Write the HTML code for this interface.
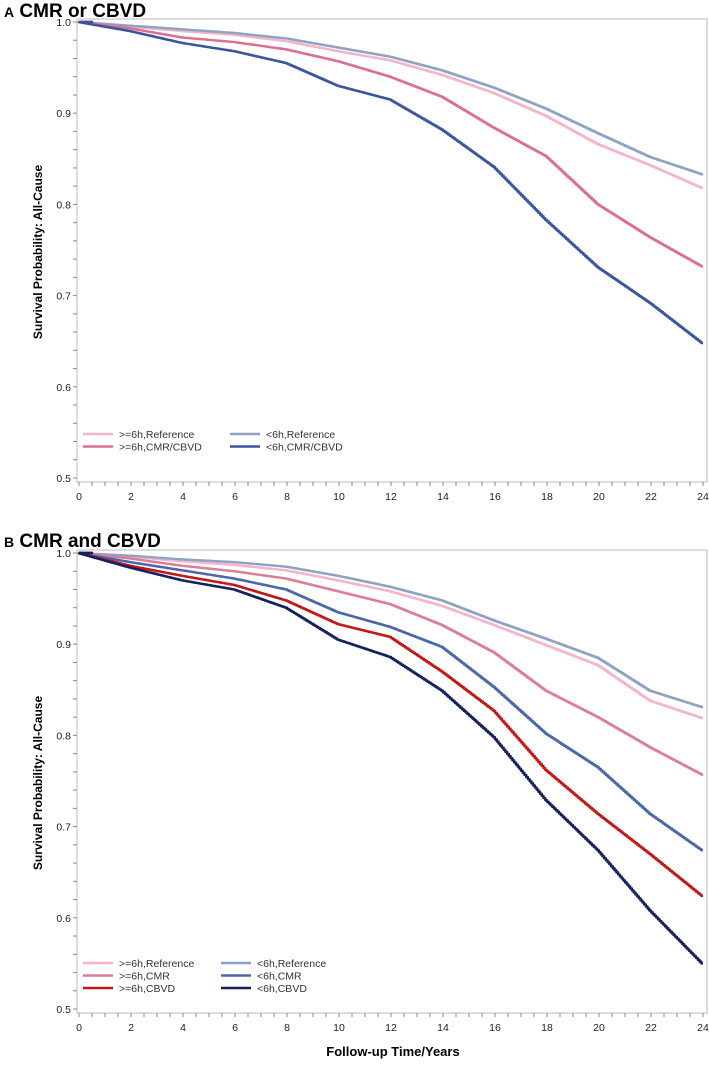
<!DOCTYPE html>
<html><head><meta charset="utf-8"><style>
body{margin:0;background:#fff;font-family:"Liberation Sans",sans-serif;}
svg text{font-family:"Liberation Sans",sans-serif;}
</style></head><body>
<svg id="s" width="709" height="1061" xmlns="http://www.w3.org/2000/svg">
<text x="4" y="17" font-size="19" font-weight="bold"><tspan font-size="14">A</tspan>  CMR or CBVD</text>
<text x="4" y="547" font-size="19" font-weight="bold"><tspan font-size="14">B</tspan>  CMR and CBVD</text>
<text x="393" y="1056" font-size="13" font-weight="bold" text-anchor="middle">Follow-up Time/Years</text>
</svg>
<script>
const years=[0,2,4,6,8,10,12,14,16,18,20,22,24];
const xTicks=[0,2,4,6,8,10,12,14,16,18,20,22,24];
const yTicks=[0.5,0.6,0.7,0.8,0.9,1.0];
const aNames=[">=6h,Reference","<6h,Reference",">=6h,CMR/CBVD","<6h,CMR/CBVD"];
const aPinkRef=[1,.995,.99,.986,.979,.968,.958,.942,.922,.897,.866,.843,.818];
const aBlueRef=[1,.996,.992,.988,.982,.972,.962,.947,.928,.905,.878,.852,.833];
const aPinkCMR=[1,.993,.983,.978,.97,.957,.94,.918,.884,.853,.80,.764,.732];
const aBlueCMR=[1,.99,.977,.968,.955,.93,.915,.882,.841,.783,.731,.692,.648];
const bNames=[">=6h,Reference","<6h,Reference",">=6h,CMR","<6h,CMR",">=6h,CBVD","<6h,CBVD"];
const bPinkRef=[1,.996,.991,.987,.981,.97,.958,.942,.921,.899,.877,.838,.819];
const bBlueRef=[1,.997,.993,.99,.985,.975,.963,.948,.926,.906,.885,.849,.831];
const bPinkCMR=[1,.994,.986,.98,.972,.958,.944,.921,.891,.849,.82,.787,.757];
const bBlueCMR=[1,.99,.981,.972,.96,.935,.919,.897,.853,.802,.765,.714,.674];
const bRedCBVD=[1,.986,.975,.965,.948,.922,.908,.87,.827,.762,.714,.67,.624];
const bNavyCBVD=[1,.984,.97,.96,.94,.905,.886,.849,.798,.729,.674,.608,.55];

const NS="http://www.w3.org/2000/svg";
const svg=document.getElementById('s');
function mk(t,a,p){const e=document.createElementNS(NS,t);for(const k in a)e.setAttribute(k,a[k]);(p||svg).appendChild(e);return e;}

function panel(top,id,series,names,colors,legendRows,col2x){
  const x=v=>79+v*26, y=v=>top+(1-v)*912;
  const g=mk('g',{});
  
  
  const fr=mk('rect',{x:77,y:top-3,width:630,height:463,fill:'none',stroke:'#bbb','stroke-width':1},g);
  
  
  for(let v=0.5;v<=1.0001;v+=0.02){mk('line',{x1:73,x2:77,y1:y(v),y2:y(v),stroke:'#888'},g);}
  yTicks.forEach(v=>{
    const t=mk('text',{x:71,y:y(v)+4,'font-size':10.5,'text-anchor':'end',fill:'#222'},g);
    t.textContent=v.toFixed(1);
    
    
  });
  for(let v=0;v<=24.001;v+=0.5){mk('line',{x1:x(v),x2:x(v),y1:top+460,y2:top+464,stroke:'#888'},g);}
  xTicks.forEach(v=>{
    const t=mk('text',{x:x(v),y:top+478,'font-size':10.5,'text-anchor':'middle',fill:'#222'},g);
    t.textContent=v;
    
    
  });
  const yl=mk('text',{x:0,y:0,'font-size':12,'font-weight':'bold','text-anchor':'middle',transform:`translate(42,${top+230}) rotate(-90)`},g);
  yl.textContent='Survival Probability: All-Cause';
  
  
  series.forEach((s,i)=>{
    let d=`M${x(0)},${y(1)} L${x(0.5)},${y(1)}`;
    for(let k=1;k<years.length;k++){
      const x0=years[k-1],x1=years[k],v0=s[k-1],v1=s[k];
      const n=30;
      for(let j=1;j<=n;j++){const xx=x0+(x1-x0)*j/n;const vv=v0+(v1-v0)*j/n;d+=` L${x(xx-(x1-x0)/n)},${y(vv)} L${x(xx)},${y(vv)}`;}
    }
    const p=mk('path',{d:d,fill:'none',stroke:colors[i],'stroke-width':2.4,'stroke-linejoin':'round'},g);
    
    
  });
  names.forEach((nm,i)=>{
    const col=i%2, row=Math.floor(i/2);
    const lx=col?col2x:83, ly=legendRows+row*12.5;
    const le=mk('g',{},g);
    
    
    mk('line',{x1:lx,x2:lx+30,y1:ly,y2:ly,stroke:colors[i],'stroke-width':2.4},le);
    const t=mk('text',{x:lx+36,y:ly+4,'font-size':10.5,fill:'#333'},le);
    t.textContent=nm;
  });
}
panel(22,'panel-a',[aPinkRef,aBlueRef,aPinkCMR,aBlueCMR],aNames,['#f4b4c9','#8ea2c6','#dc6f8f','#3a559e'],434,230);
panel(553,'panel-b',[bPinkRef,bBlueRef,bPinkCMR,bBlueCMR,bRedCBVD,bNavyCBVD],bNames,['#f4b4c9','#8ea2c6','#dc7d9a','#4c67a8','#c41818','#13225e'],963,221);
</script>
</body></html>
